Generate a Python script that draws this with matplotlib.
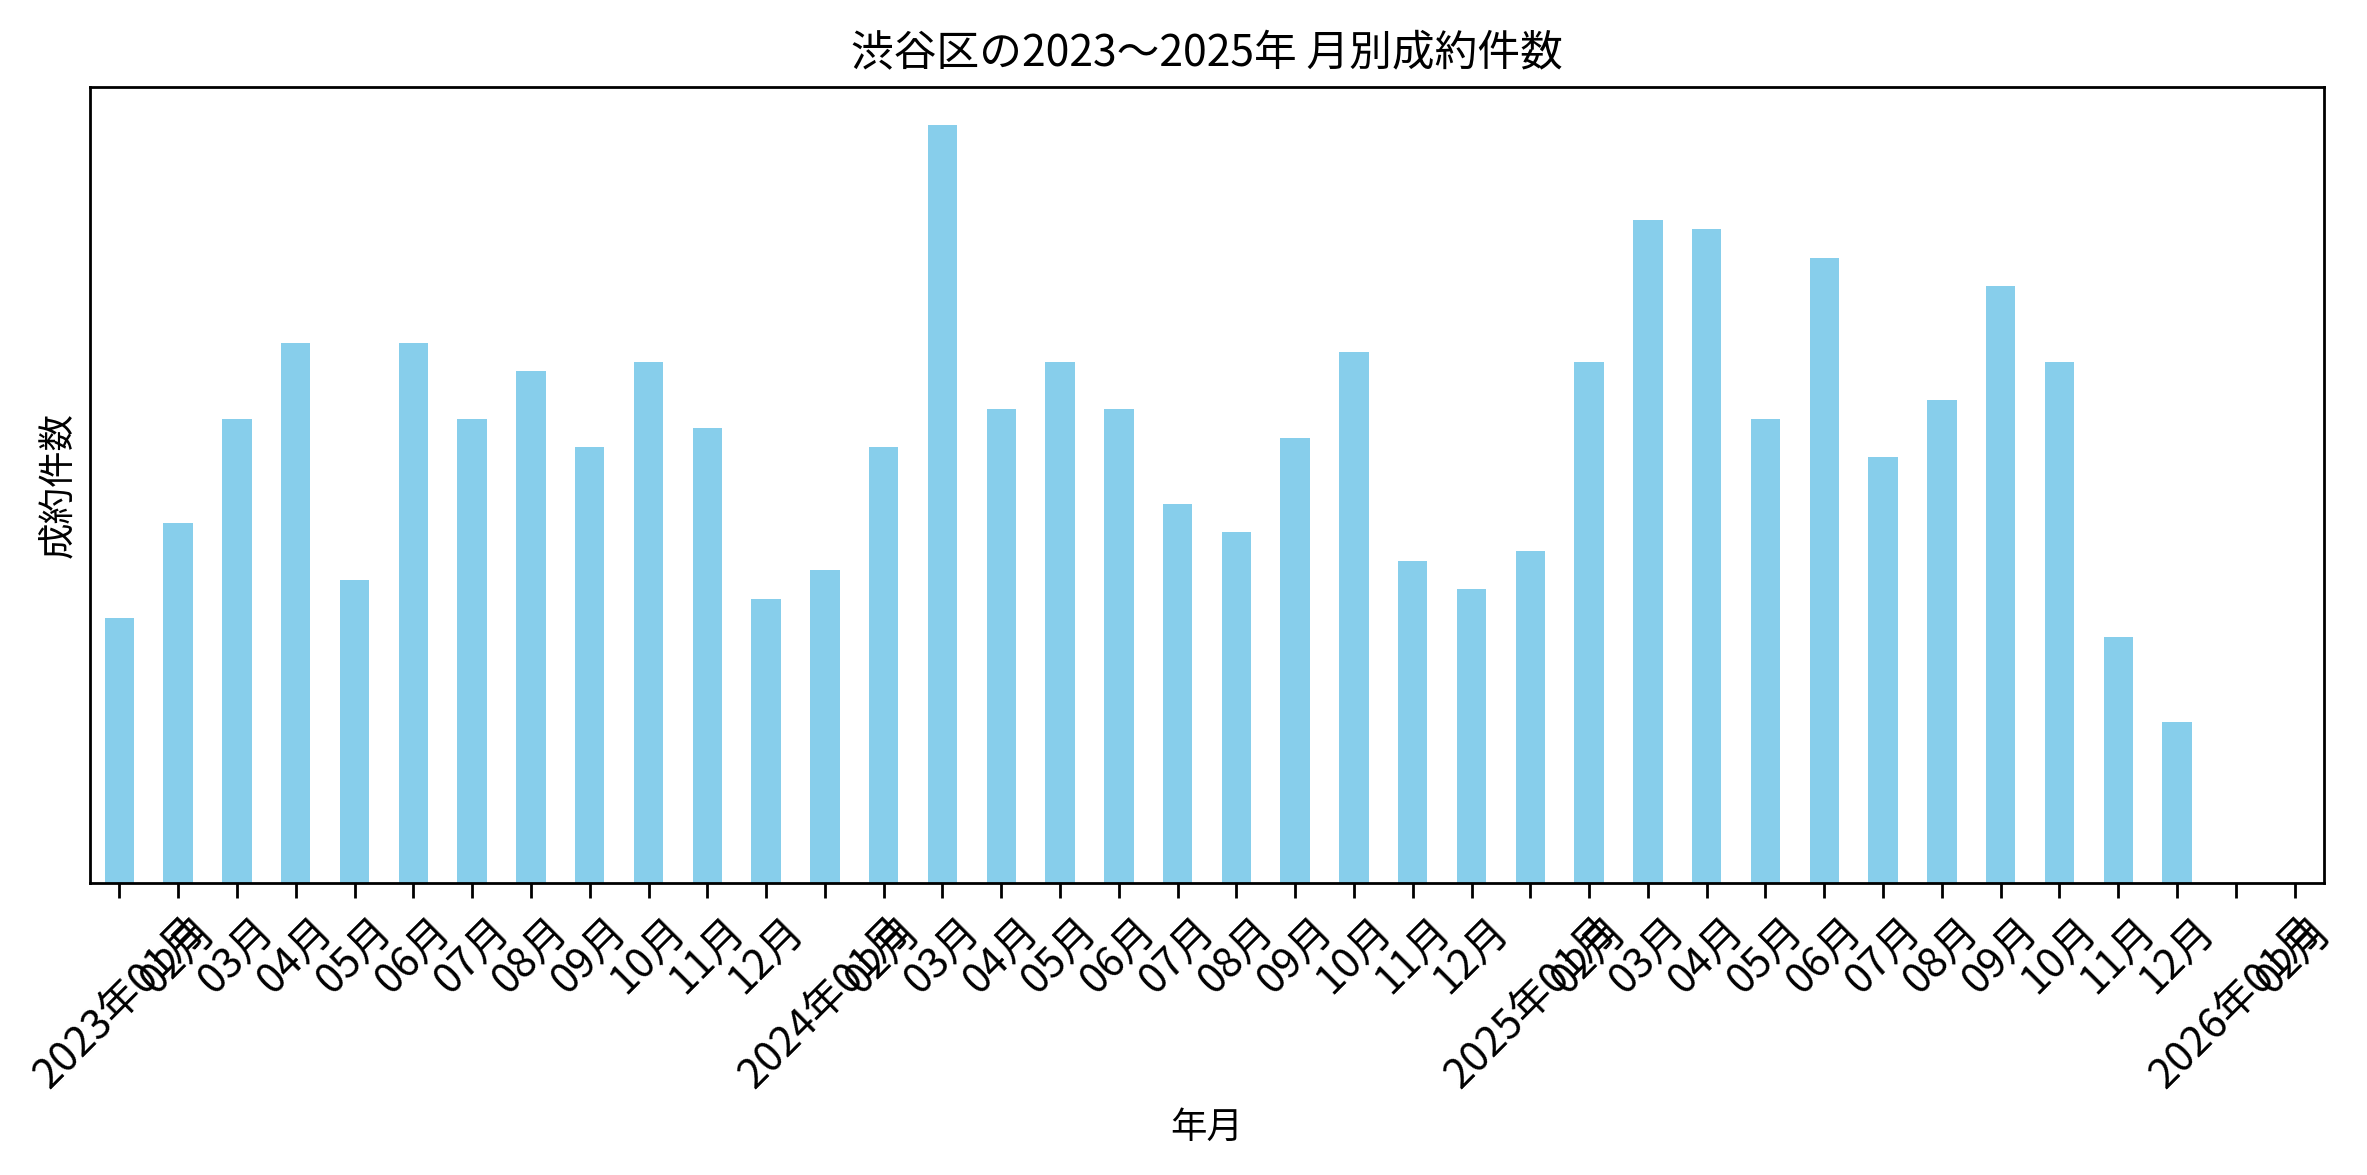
import matplotlib
matplotlib.use("Agg")
import matplotlib.pyplot as plt
import numpy as np

plt.rcParams['font.family'] = ['Noto Sans CJK JP', 'DejaVu Sans']

# Data (months 2023-01 .. 2026-02)
months = [
    "2023年01月", "02月", "03月", "04月", "05月", "06月", "07月", "08月", "09月", "10月", "11月", "12月",
    "2024年01月", "02月", "03月", "04月", "05月", "06月", "07月", "08月", "09月", "10月", "11月", "12月",
    "2025年01月", "02月", "03月", "04月", "05月", "06月", "07月", "08月", "09月", "10月", "11月", "12月",
    "2026年01月", "02月",
]
counts_2023 = [28, 38, 49, 57, 32, 57, 49, 54, 46, 55, 48, 30]
counts_2024 = [33, 46, 80, 50, 55, 50, 40, 37, 47, 56, 34, 31]
counts_2025 = [35, 55, 70, 69, 49, 66, 45, 51, 63, 55, 26, 17]
counts_2026 = [0, 0]
counts = counts_2023 + counts_2024 + counts_2025 + counts_2026

title = "渋谷区の2023〜2025年 月別成約件数"
xlabel = "年月"
ylabel = "成約件数"

fig = plt.figure(figsize=(2367 / 250, 1175 / 250), dpi=250)
ax = fig.add_axes([90 / 2367, 1 - 883 / 1175, (2324 - 90) / 2367, (883 - 87) / 1175])

x = np.arange(len(counts))
ax.bar(x, counts, width=0.5, color="skyblue")
ax.set_xlim(-0.5, len(counts) - 0.5)
ax.set_ylim(0, max(counts) * 1.05)
ax.set_xticks(x)
ax.set_xticklabels(months, rotation=45, fontsize=12)
ax.tick_params(axis="x", length=4.2)
ax.set_yticks([])
ax.set_title(title, fontsize=12.3)
ax.set_xlabel(xlabel, fontsize=10.5)
ax.set_ylabel(ylabel, fontsize=10.5)

fig.savefig("out.png", dpi=250)
